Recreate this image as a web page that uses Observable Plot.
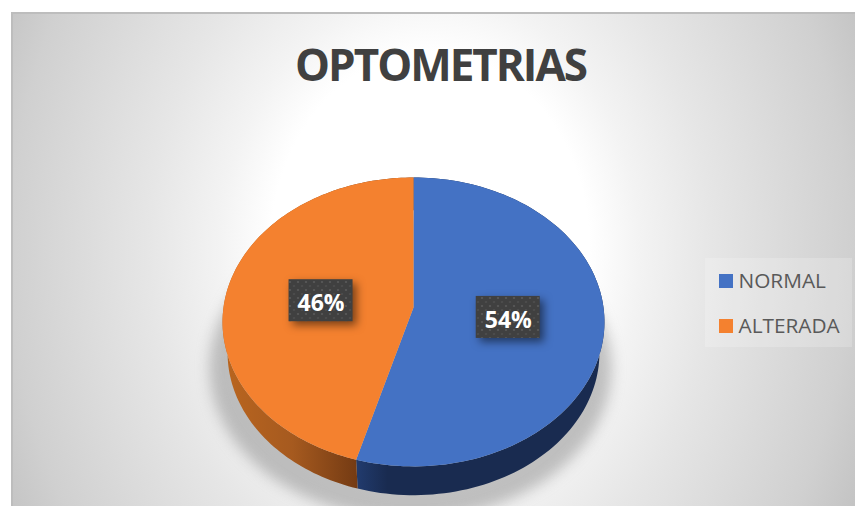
<!DOCTYPE html>
<html>
<head>
<meta charset="utf-8">
<script src="https://cdn.jsdelivr.net/npm/d3@7"></script>
<script src="https://cdn.jsdelivr.net/npm/@observablehq/plot@0.6"></script>
<style>
html,body{margin:0;padding:0;background:#fff;width:855px;height:506px;overflow:hidden}
#panel{position:absolute;left:11px;top:12px;width:844px;height:494px;box-sizing:border-box;border-top:2px solid #bdbdbd;border-left:2px solid #bdbdbd;
background:radial-gradient(ellipse 420px 520px at 417px 236px,#fff 0%,#fff 38%,#f3f3f3 50%,#e6e6e6 67%,#d0d0d0 100%,#c4c4c4 112%)}
#chart{position:absolute;left:0;top:0}
.chart-title{letter-spacing:-2px}
</style>
</head>
<body>
<div id="panel"></div>
<div id="chart"></div>
<script>
const title = "OPTOMETRIAS";
const categories = ["NORMAL", "ALTERADA"];
const shares = [54.4, 45.6];
const faceColors = ["#4472c4", "#f4812f"];
const labelNudge = [[0, 0], [1, 3]];
const W = 855, H = 506;

// tilted-disc view: unit circle -> page position with perspective
const view = {cx: 413, cy: 307, a: 190, b: 143, k: 0.1};
const base = {cx: 413, cy: 338, a: 185, b: 141, k: 0.1};
const project = (p, ang, r = 1) => {
  const u = r * Math.sin(ang), w = r * Math.cos(ang), s = 1 + p.k * w;
  return [p.cx + p.a * u / s, p.cy - p.b * w / s];
};
const arcs = d3.pie().sort(null).value(d => d)(shares);
const angles = (a0, a1) => d3.range(0, 121).map(i => a0 + (a1 - a0) * i / 120);

const face = arcs.flatMap((arc, i) => {
  const pts = [[view.cx, view.cy], ...angles(arc.startAngle, arc.endAngle).map(t => project(view, t))];
  return pts.map(([x, y]) => ({x, y, name: categories[i]}));
});
const band = i => {
  const as = angles(arcs[i].startAngle, arcs[i].endAngle);
  return [...as.map(t => project(view, t)), ...as.reverse().map(t => project(base, t))].map(([x, y]) => ({x, y}));
};
const shadow = angles(0, 2 * Math.PI).map(t => {
  const [x, y] = project({cx: 410, cy: 352, a: 200, b: 150, k: 0.1}, t);
  return {x, y};
});
const labels = arcs.map((arc, i) => {
  const [x, y] = project(view, (arc.startAngle + arc.endAngle) / 2, 0.5);
  return {x: x + labelNudge[i][0], y: y + labelNudge[i][1], text: d3.format(".0f")(shares[i]) + "%"};
});
const legend = categories.map((name, i) => ({name, row: i}));
const legendX = 719, legendY = r => 281 + 45 * r;

const plot = Plot.plot({
  width: W, height: H, margin: 0,
  style: {background: "transparent"},
  x: {domain: [0, W], axis: null},
  y: {domain: [H, 0], axis: null},
  color: {domain: categories, range: faceColors},
  marks: [
    Plot.line(shadow, {x: "x", y: "y", fill: "#8a8a8a", fillOpacity: 0.5, stroke: "none", imageFilter: "blur(7px)"}),
    Plot.line(band(0), {x: "x", y: "y", fill: "url(#sideBlue)", stroke: "none"}),
    Plot.line(band(1), {x: "x", y: "y", fill: "url(#sideOrange)", stroke: "none"}),
    Plot.line(face, {x: "x", y: "y", fill: "name", z: "name", stroke: "none"}),
    Plot.rect(labels, {x1: d => d.x - 32, x2: d => d.x + 32, y1: d => d.y - 21, y2: d => d.y + 21, fill: "#404040", imageFilter: "drop-shadow(4px 4px 4px rgba(0,0,0,.5))"}),
    Plot.rect(labels, {x1: d => d.x - 32, x2: d => d.x + 32, y1: d => d.y - 21, y2: d => d.y + 21, fill: "url(#dots)"}),
    Plot.text(labels, {x: "x", y: d => d.y + 3, text: "text", fill: "#fff", fontSize: 23, fontWeight: 700, fontFamily: "Open Sans"}),
    Plot.text([title], {x: () => 440, y: () => 66, text: d => d, className: "chart-title", fill: "#404040", fontSize: 44, fontWeight: 700, fontFamily: "Open Sans"}),
    Plot.rect([0], {x1: () => 705, x2: () => 852, y1: () => 258, y2: () => 347, fill: "#fff", fillOpacity: 0.2}),
    Plot.rect(legend, {x1: () => legendX, x2: () => legendX + 14, y1: d => legendY(d.row) - 7, y2: d => legendY(d.row) + 7, fill: "name"}),
    Plot.text(legend, {x: () => legendX + 19, y: d => legendY(d.row), text: "name", textAnchor: "start", fill: "#595959", fontSize: 20.8, fontFamily: "Open Sans"})
  ]
});

const ns = "http://www.w3.org/2000/svg";
const defs = document.createElementNS(ns, "defs");
defs.innerHTML = `
<linearGradient id="sideOrange" gradientUnits="userSpaceOnUse" x1="225" x2="358" y1="0" y2="0">
  <stop offset="0" stop-color="#b9651f"/><stop offset="0.5" stop-color="#a65a1f"/><stop offset="1" stop-color="#733a13"/>
</linearGradient>
<linearGradient id="sideBlue" gradientUnits="userSpaceOnUse" x1="358" x2="600" y1="0" y2="0">
  <stop offset="0" stop-color="#213a6c"/><stop offset="0.12" stop-color="#192b50"/><stop offset="1" stop-color="#192b50"/>
</linearGradient>
<pattern id="dots" width="8" height="8" patternUnits="userSpaceOnUse">
  <circle cx="2" cy="2" r="1.1" fill="#5a5a5a"/><circle cx="6" cy="6" r="1.1" fill="#4e4e4e"/>
</pattern>`;
plot.prepend(defs);
document.getElementById("chart").append(plot);
</script>
</body>
</html>
